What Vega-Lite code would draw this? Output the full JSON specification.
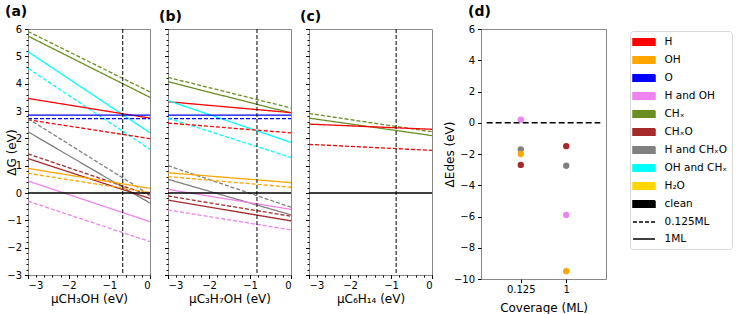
{
  "$schema": "https://vega.github.io/schema/vega-lite/v6.json",
  "padding": {"left": 4, "top": 4, "right": 0, "bottom": 0},
  "datasets": {
    "lines": [
      {"p": "a", "s": "CHₓ", "c": "0.125ML", "x": -3, "y": 5.91}, {"p": "a", "s": "CHₓ", "c": "0.125ML", "x": 0, "y": 3.70},
      {"p": "a", "s": "CHₓ", "c": "1ML", "x": -3, "y": 5.74}, {"p": "a", "s": "CHₓ", "c": "1ML", "x": 0, "y": 3.50},
      {"p": "a", "s": "OH and CHₓ", "c": "1ML", "x": -3, "y": 5.17}, {"p": "a", "s": "OH and CHₓ", "c": "1ML", "x": 0, "y": 2.20},
      {"p": "a", "s": "OH and CHₓ", "c": "0.125ML", "x": -3, "y": 4.56}, {"p": "a", "s": "OH and CHₓ", "c": "0.125ML", "x": 0, "y": 1.60},
      {"p": "a", "s": "H", "c": "1ML", "x": -3, "y": 3.46}, {"p": "a", "s": "H", "c": "1ML", "x": 0, "y": 2.74},
      {"p": "a", "s": "H", "c": "0.125ML", "x": -3, "y": 2.68}, {"p": "a", "s": "H", "c": "0.125ML", "x": 0, "y": 1.99},
      {"p": "a", "s": "O", "c": "1ML", "x": -3, "y": 2.85}, {"p": "a", "s": "O", "c": "1ML", "x": 0, "y": 2.85},
      {"p": "a", "s": "O", "c": "0.125ML", "x": -3, "y": 2.72}, {"p": "a", "s": "O", "c": "0.125ML", "x": 0, "y": 2.72},
      {"p": "a", "s": "H and CHₓO", "c": "0.125ML", "x": -3, "y": 2.72}, {"p": "a", "s": "H and CHₓO", "c": "0.125ML", "x": 0, "y": -0.07},
      {"p": "a", "s": "H and CHₓO", "c": "1ML", "x": -3, "y": 2.24}, {"p": "a", "s": "H and CHₓO", "c": "1ML", "x": 0, "y": -0.37},
      {"p": "a", "s": "CHₓO", "c": "0.125ML", "x": -3, "y": 1.43}, {"p": "a", "s": "CHₓO", "c": "0.125ML", "x": 0, "y": -0.08},
      {"p": "a", "s": "CHₓO", "c": "1ML", "x": -3, "y": 1.26}, {"p": "a", "s": "CHₓO", "c": "1ML", "x": 0, "y": -0.20},
      {"p": "a", "s": "OH", "c": "1ML", "x": -3, "y": 0.90}, {"p": "a", "s": "OH", "c": "1ML", "x": 0, "y": 0.17},
      {"p": "a", "s": "OH", "c": "0.125ML", "x": -3, "y": 0.72}, {"p": "a", "s": "OH", "c": "0.125ML", "x": 0, "y": 0.02},
      {"p": "a", "s": "H and OH", "c": "1ML", "x": -3, "y": 0.44}, {"p": "a", "s": "H and OH", "c": "1ML", "x": 0, "y": -1.05},
      {"p": "a", "s": "H and OH", "c": "0.125ML", "x": -3, "y": -0.30}, {"p": "a", "s": "H and OH", "c": "0.125ML", "x": 0, "y": -1.78},
      {"p": "a", "s": "clean", "c": "1ML", "x": -3, "y": 0}, {"p": "a", "s": "clean", "c": "1ML", "x": 0, "y": 0},

      {"p": "b", "s": "CHₓ", "c": "0.125ML", "x": -3, "y": 4.23}, {"p": "b", "s": "CHₓ", "c": "0.125ML", "x": 0, "y": 3.11},
      {"p": "b", "s": "CHₓ", "c": "1ML", "x": -3, "y": 4.07}, {"p": "b", "s": "CHₓ", "c": "1ML", "x": 0, "y": 2.93},
      {"p": "b", "s": "H", "c": "1ML", "x": -3, "y": 3.34}, {"p": "b", "s": "H", "c": "1ML", "x": 0, "y": 2.94},
      {"p": "b", "s": "OH and CHₓ", "c": "1ML", "x": -3, "y": 3.38}, {"p": "b", "s": "OH and CHₓ", "c": "1ML", "x": 0, "y": 1.85},
      {"p": "b", "s": "O", "c": "1ML", "x": -3, "y": 2.85}, {"p": "b", "s": "O", "c": "1ML", "x": 0, "y": 2.85},
      {"p": "b", "s": "O", "c": "0.125ML", "x": -3, "y": 2.72}, {"p": "b", "s": "O", "c": "0.125ML", "x": 0, "y": 2.72},
      {"p": "b", "s": "OH and CHₓ", "c": "0.125ML", "x": -3, "y": 2.74}, {"p": "b", "s": "OH and CHₓ", "c": "0.125ML", "x": 0, "y": 1.30},
      {"p": "b", "s": "H", "c": "0.125ML", "x": -3, "y": 2.56}, {"p": "b", "s": "H", "c": "0.125ML", "x": 0, "y": 2.20},
      {"p": "b", "s": "H and CHₓO", "c": "0.125ML", "x": -3, "y": 1.00}, {"p": "b", "s": "H and CHₓO", "c": "0.125ML", "x": 0, "y": -0.52},
      {"p": "b", "s": "OH", "c": "1ML", "x": -3, "y": 0.74}, {"p": "b", "s": "OH", "c": "1ML", "x": 0, "y": 0.38},
      {"p": "b", "s": "OH", "c": "0.125ML", "x": -3, "y": 0.60}, {"p": "b", "s": "OH", "c": "0.125ML", "x": 0, "y": 0.21},
      {"p": "b", "s": "H and CHₓO", "c": "1ML", "x": -3, "y": 0.50}, {"p": "b", "s": "H and CHₓO", "c": "1ML", "x": 0, "y": -0.80},
      {"p": "b", "s": "H and OH", "c": "1ML", "x": -3, "y": 0.13}, {"p": "b", "s": "H and OH", "c": "1ML", "x": 0, "y": -0.60},
      {"p": "b", "s": "CHₓO", "c": "0.125ML", "x": -3, "y": -0.11}, {"p": "b", "s": "CHₓO", "c": "0.125ML", "x": 0, "y": -0.85},
      {"p": "b", "s": "CHₓO", "c": "1ML", "x": -3, "y": -0.26}, {"p": "b", "s": "CHₓO", "c": "1ML", "x": 0, "y": -1.02},
      {"p": "b", "s": "H and OH", "c": "0.125ML", "x": -3, "y": -0.62}, {"p": "b", "s": "H and OH", "c": "0.125ML", "x": 0, "y": -1.35},
      {"p": "b", "s": "clean", "c": "1ML", "x": -3, "y": 0}, {"p": "b", "s": "clean", "c": "1ML", "x": 0, "y": 0},

      {"p": "c", "s": "CHₓ", "c": "0.125ML", "x": -3, "y": 2.91}, {"p": "c", "s": "CHₓ", "c": "0.125ML", "x": 0, "y": 2.24},
      {"p": "c", "s": "CHₓ", "c": "1ML", "x": -3, "y": 2.74}, {"p": "c", "s": "CHₓ", "c": "1ML", "x": 0, "y": 2.10},
      {"p": "c", "s": "H", "c": "1ML", "x": -3, "y": 2.52}, {"p": "c", "s": "H", "c": "1ML", "x": 0, "y": 2.33},
      {"p": "c", "s": "H", "c": "0.125ML", "x": -3, "y": 1.78}, {"p": "c", "s": "H", "c": "0.125ML", "x": 0, "y": 1.56},
      {"p": "c", "s": "clean", "c": "1ML", "x": -3, "y": 0}, {"p": "c", "s": "clean", "c": "1ML", "x": 0, "y": 0}
    ],
    "vlines": [{"p": "a", "x": -0.67}, {"p": "b", "x": -0.83}, {"p": "c", "x": -0.875}],
    "pts": [
      {"cov": 0, "s": "H and OH", "y": 0.2},
      {"cov": 0, "s": "H and CHₓO", "y": -1.7},
      {"cov": 0, "s": "OH", "y": -2.0},
      {"cov": 0, "s": "CHₓO", "y": -2.7},
      {"cov": 1, "s": "CHₓO", "y": -1.5},
      {"cov": 1, "s": "H and CHₓO", "y": -2.75},
      {"cov": 1, "s": "H and OH", "y": -5.9},
      {"cov": 1, "s": "OH", "y": -9.5}
    ],
    "hline": [{"x1": -0.75, "x2": 1.75, "y": 0}]
  },
  "config": {
    "font": "DejaVu Sans",
    "view": {"stroke": "#888", "strokeWidth": 1},
    "axis": {
      "labelFont": "DejaVu Sans", "labelFontSize": 10, "labelColor": "black", "labelOverlap": false,
      "titleFont": "DejaVu Sans", "titleFontSize": 12, "titleFontWeight": "normal", "titleColor": "black",
      "tickColor": "black", "tickSize": 3.5, "labelPadding": 3, "domain": false, "grid": false
    },
    "title": {"fontSize": 14, "fontWeight": "bold", "font": "DejaVu Sans", "anchor": "start", "frame": "group", "offset": 5, "color": "black"}
  },
  "hconcat": [
    {
      "spacing": 7,
      "hconcat": [
        {
          "width": 122, "height": 246,
          "title": {"text": "(a)", "dx": -23},
          "resolve": {"axis": {"x": "independent", "y": "independent"}},
          "layer": [
            {
              "data": {"name": "lines"},
              "transform": [{"filter": "datum.p === 'a' && datum.s !== 'clean'"}],
              "mark": {"type": "line", "strokeWidth": 1.3, "clip": true},
              "encoding": {
                "x": {"field": "x", "type": "quantitative", "scale": {"domain": [-3, 0], "nice": false}, "axis": {"orient": "bottom", "values": [-3, -2, -1, 0], "format": "d", "title": "μCH₃OH (eV)", "labelPadding": 2, "titlePadding": 3}},
                "y": {"field": "y", "type": "quantitative", "scale": {"domain": [-3, 6], "nice": false}, "axis": {"orient": "left", "values": [-3, -2, -1, 0, 1, 2, 3, 4, 5, 6], "format": "d", "title": "ΔG (eV)", "titlePadding": -12, "labelOverlap": false}},
                "color": {
                  "field": "s", "type": "nominal",
                  "scale": {
                    "domain": ["H", "OH", "O", "H and OH", "CHₓ", "CHₓO", "H and CHₓO", "OH and CHₓ", "H₂O", "clean", "0.125ML", "1ML"],
                    "range": ["#ff0000", "#ffa500", "#0000ff", "#ee82ee", "#6b8e23", "#a52a2a", "#808080", "#00ffff", "#ffd700", "#000000", "#000000", "#000000"]
                  },
                  "legend": {
                    "title": null, "orient": "none", "legendX": 602, "legendY": 2,
                    "symbolSize": 121, "symbolOffset": 3, "labelOffset": 14, "rowPadding": 5, "padding": 4.5,
                    "strokeColor": "#d8d8d8", "cornerRadius": 3, "fillColor": "white",
                    "labelFont": "DejaVu Sans", "labelFontSize": 10.5, "labelColor": "black", "labelLimit": 200,
                    "symbolOpacity": 1,
                    "encode": {
                      "symbols": {
                        "update": {
                          "shape": [{"test": "datum.value === '0.125ML' || datum.value === '1ML'", "value": "M-2,0H2"}, {"value": "M-2,-0.6H2V0.6H-2Z"}],
                          "fill": [{"test": "datum.value === '0.125ML' || datum.value === '1ML'", "value": "transparent"}, {"scale": "color", "field": "value"}],
                          "stroke": [{"test": "datum.value === '0.125ML' || datum.value === '1ML'", "value": "black"}, {"value": "transparent"}],
                          "strokeDash": [{"test": "datum.value === '0.125ML'", "value": [4, 2]}, {"value": [1, 0]}],
                          "strokeWidth": {"value": 1.5},
                          "opacity": {"value": 1}
                        }
                      }
                    }
                  }
                },
                "strokeDash": {"field": "c", "type": "nominal", "scale": {"domain": ["0.125ML", "1ML"], "range": [[4, 2], [1, 0]]}, "legend": null}
              }
            },
            {
              "data": {"name": "lines"},
              "transform": [{"filter": "datum.p === 'a' && datum.s === 'clean'"}],
              "mark": {"type": "line", "strokeWidth": 1.5, "clip": true, "color": "black"},
              "encoding": {
                "x": {"field": "x", "type": "quantitative", "axis": {"orient": "bottom", "values": [-3, -2.8, -2.6, -2.4, -2.2, -2, -1.8, -1.6, -1.4, -1.2, -1, -0.8, -0.6, -0.4, -0.2, 0], "tickCount": 100, "labels": false, "title": null, "tickSize": 2}},
                "y": {"field": "y", "type": "quantitative", "axis": {"orient": "left", "values": [-3, -2.8, -2.6, -2.4, -2.2, -2, -1.8, -1.6, -1.4, -1.2, -1, -0.8, -0.6, -0.4, -0.2, 0, 0.2, 0.4, 0.6, 0.8, 1, 1.2, 1.4, 1.6, 1.8, 2, 2.2, 2.4, 2.6, 2.8, 3, 3.2, 3.4, 3.6, 3.8, 4, 4.2, 4.4, 4.6, 4.8, 5, 5.2, 5.4, 5.6, 5.8, 6], "tickCount": 100, "labels": false, "title": null, "tickSize": 2}}
              }
            },
            {
              "data": {"name": "vlines"},
              "transform": [{"filter": "datum.p === 'a'"}],
              "mark": {"type": "rule", "color": "black", "strokeDash": [4, 2], "strokeWidth": 1},
              "encoding": {"x": {"field": "x", "type": "quantitative", "axis": null}}
            }
          ]
        },
        {
          "width": 123, "height": 246,
          "title": {"text": "(b)", "dx": -9},
          "resolve": {"axis": {"x": "independent", "y": "independent"}},
          "layer": [
            {
              "data": {"name": "lines"},
              "transform": [{"filter": "datum.p === 'b' && datum.s !== 'clean'"}],
              "mark": {"type": "line", "strokeWidth": 1.3, "clip": true},
              "encoding": {
                "x": {"field": "x", "type": "quantitative", "scale": {"domain": [-3, 0], "nice": false}, "axis": {"orient": "bottom", "values": [-3, -2, -1, 0], "format": "d", "title": "μC₃H₇OH (eV)", "labelPadding": 2, "titlePadding": 3}},
                "y": {"field": "y", "type": "quantitative", "scale": {"domain": [-3, 6], "nice": false}, "axis": {"orient": "left", "values": [-3, -2, -1, 0, 1, 2, 3, 4, 5, 6], "title": null, "labels": false}},
                "color": {"field": "s", "type": "nominal", "legend": null},
                "strokeDash": {"field": "c", "type": "nominal", "scale": {"domain": ["0.125ML", "1ML"], "range": [[4, 2], [1, 0]]}, "legend": null}
              }
            },
            {
              "data": {"name": "lines"},
              "transform": [{"filter": "datum.p === 'b' && datum.s === 'clean'"}],
              "mark": {"type": "line", "strokeWidth": 1.5, "clip": true, "color": "black"},
              "encoding": {
                "x": {"field": "x", "type": "quantitative", "axis": {"orient": "bottom", "values": [-3, -2.8, -2.6, -2.4, -2.2, -2, -1.8, -1.6, -1.4, -1.2, -1, -0.8, -0.6, -0.4, -0.2, 0], "tickCount": 100, "labels": false, "title": null, "tickSize": 2}},
                "y": {"field": "y", "type": "quantitative", "axis": {"orient": "left", "values": [-3, -2.8, -2.6, -2.4, -2.2, -2, -1.8, -1.6, -1.4, -1.2, -1, -0.8, -0.6, -0.4, -0.2, 0, 0.2, 0.4, 0.6, 0.8, 1, 1.2, 1.4, 1.6, 1.8, 2, 2.2, 2.4, 2.6, 2.8, 3, 3.2, 3.4, 3.6, 3.8, 4, 4.2, 4.4, 4.6, 4.8, 5, 5.2, 5.4, 5.6, 5.8, 6], "tickCount": 100, "labels": false, "title": null, "tickSize": 2}}
              }
            },
            {
              "data": {"name": "vlines"},
              "transform": [{"filter": "datum.p === 'b'"}],
              "mark": {"type": "rule", "color": "black", "strokeDash": [4, 2], "strokeWidth": 1},
              "encoding": {"x": {"field": "x", "type": "quantitative", "axis": null}}
            }
          ]
        },
        {
          "width": 123, "height": 246,
          "title": {"text": "(c)", "dx": -9},
          "resolve": {"axis": {"x": "independent", "y": "independent"}},
          "layer": [
            {
              "data": {"name": "lines"},
              "transform": [{"filter": "datum.p === 'c' && datum.s !== 'clean'"}],
              "mark": {"type": "line", "strokeWidth": 1.3, "clip": true},
              "encoding": {
                "x": {"field": "x", "type": "quantitative", "scale": {"domain": [-3, 0], "nice": false}, "axis": {"orient": "bottom", "values": [-3, -2, -1, 0], "format": "d", "title": "μC₆H₁₄ (eV)", "labelPadding": 2, "titlePadding": 3}},
                "y": {"field": "y", "type": "quantitative", "scale": {"domain": [-3, 6], "nice": false}, "axis": {"orient": "left", "values": [-3, -2, -1, 0, 1, 2, 3, 4, 5, 6], "title": null, "labels": false}},
                "color": {"field": "s", "type": "nominal", "legend": null},
                "strokeDash": {"field": "c", "type": "nominal", "scale": {"domain": ["0.125ML", "1ML"], "range": [[4, 2], [1, 0]]}, "legend": null}
              }
            },
            {
              "data": {"name": "lines"},
              "transform": [{"filter": "datum.p === 'c' && datum.s === 'clean'"}],
              "mark": {"type": "line", "strokeWidth": 1.5, "clip": true, "color": "black"},
              "encoding": {
                "x": {"field": "x", "type": "quantitative", "axis": {"orient": "bottom", "values": [-3, -2.8, -2.6, -2.4, -2.2, -2, -1.8, -1.6, -1.4, -1.2, -1, -0.8, -0.6, -0.4, -0.2, 0], "tickCount": 100, "labels": false, "title": null, "tickSize": 2}},
                "y": {"field": "y", "type": "quantitative", "axis": {"orient": "left", "values": [-3, -2.8, -2.6, -2.4, -2.2, -2, -1.8, -1.6, -1.4, -1.2, -1, -0.8, -0.6, -0.4, -0.2, 0, 0.2, 0.4, 0.6, 0.8, 1, 1.2, 1.4, 1.6, 1.8, 2, 2.2, 2.4, 2.6, 2.8, 3, 3.2, 3.4, 3.6, 3.8, 4, 4.2, 4.4, 4.6, 4.8, 5, 5.2, 5.4, 5.6, 5.8, 6], "tickCount": 100, "labels": false, "title": null, "tickSize": 2}}
              }
            },
            {
              "data": {"name": "vlines"},
              "transform": [{"filter": "datum.p === 'c'"}],
              "mark": {"type": "rule", "color": "black", "strokeDash": [4, 2], "strokeWidth": 1},
              "encoding": {"x": {"field": "x", "type": "quantitative", "axis": null}}
            }
          ]
        }
      ]
    },
    {
      "width": 125, "height": 250,
      "title": {"text": "(d)", "dx": -13},
      "layer": [
        {
          "data": {"name": "hline"},
          "mark": {"type": "rule", "color": "black", "strokeDash": [6, 3], "strokeWidth": 1.5},
          "encoding": {
            "x": {"field": "x1", "type": "quantitative", "scale": {"domain": [-0.875, 1.875], "nice": false, "zero": false}, "axis": {"values": [0, 1], "labelExpr": "datum.value === 0 ? '0.125' : '1'", "title": "Coverage (ML)", "labelPadding": 2, "titlePadding": 8}},
            "x2": {"field": "x2"},
            "y": {"field": "y", "type": "quantitative", "scale": {"domain": [-10, 6], "nice": false}, "axis": {"values": [-10, -8, -6, -4, -2, 0, 2, 4, 6], "tickCount": 100, "format": "d", "title": "ΔEdes (eV)", "titlePadding": -3, "labelOverlap": false}}
          }
        },
        {
          "data": {"name": "pts"},
          "mark": {"type": "point", "filled": true, "size": 40, "opacity": 1},
          "encoding": {
            "x": {"field": "cov", "type": "quantitative"},
            "y": {"field": "y", "type": "quantitative", "axis": {"values": [-10, -8, -6, -4, -2, 0, 2, 4, 6], "tickCount": 100, "format": "d", "title": "ΔEdes (eV)", "titlePadding": -3, "labelOverlap": false}},
            "color": {"field": "s", "type": "nominal", "legend": null}
          }
        }
      ]
    }
  ],
  "spacing": 9
}
